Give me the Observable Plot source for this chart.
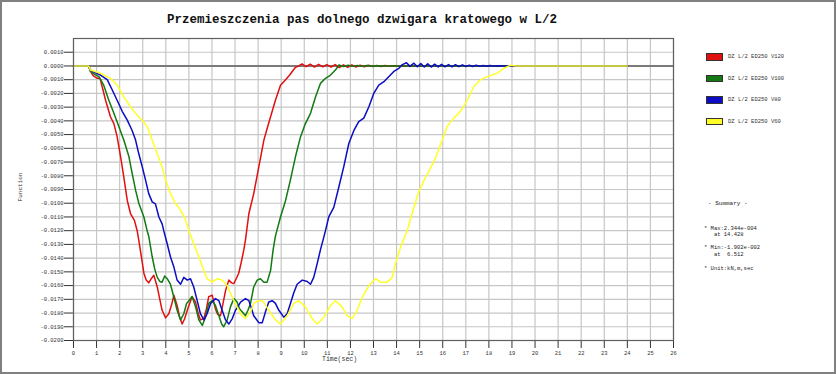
<!DOCTYPE html>
<html><head><meta charset="utf-8">
<script src="https://cdn.jsdelivr.net/npm/d3@7"></script>
<script src="https://cdn.jsdelivr.net/npm/@observablehq/plot@0.6"></script>
<style>
body{margin:0;background:#fff}
#wrap{position:relative;width:836px;height:374px;overflow:hidden;font-family:"Liberation Mono","DejaVu Sans Mono",monospace;color:#222}
.t{position:absolute;white-space:pre;line-height:1}
#border{position:absolute;left:0;top:0;width:836px;height:374px;box-sizing:border-box;border:2px solid #808080;pointer-events:none}
</style></head>
<body><div id="wrap"></div>
<script>
const title = "Przemieszczenia pas dolnego dzwigara kratowego w L/2";
const xLabel = "Time(sec)";
const yLabel = "Function";
const xTicks = [0,1,2,3,4,5,6,7,8,9,10,11,12,13,14,15,16,17,18,19,20,21,22,23,24,25,26];
const yTicks = [0.001,0,-0.001,-0.002,-0.003,-0.004,-0.005,-0.006,-0.007,-0.008,-0.009,-0.010,-0.011,-0.012,-0.013,-0.014,-0.015,-0.016,-0.017,-0.018,-0.019,-0.020];
const seriesNames = ["DZ L/2 ED250 V120","DZ L/2 ED250 V100","DZ L/2 ED250 V80","DZ L/2 ED250 V60"];
const seriesColors = ["#e01010","#127a12","#0c0cc4","#ffff26"];
const summaryLines = ["- Summary -","* Max:2.344e-004","   at 14.428","* Min:-1.902e-002","   at  6.512","* Unit:kN,m,sec"];

const v120 = [[0,0],[0.65,0],[0.74,-0.0004],[0.85,-0.0007],[1.03,-0.0009],[1.15,-0.0009],[1.24,-0.0015],[1.39,-0.0025],[1.6,-0.0037],[1.75,-0.0042],[1.89,-0.00515],[2.04,-0.0066],[2.18,-0.0081],[2.33,-0.0098],[2.47,-0.01075],[2.64,-0.01125],[2.76,-0.012],[2.83,-0.0127],[2.95,-0.014],[3.05,-0.0151],[3.15,-0.0156],[3.26,-0.0158],[3.37,-0.0155],[3.48,-0.01525],[3.63,-0.0161],[3.74,-0.017],[3.84,-0.0178],[3.99,-0.01835],[4.13,-0.01805],[4.25,-0.0174],[4.35,-0.0167],[4.49,-0.01745],[4.6,-0.0183],[4.71,-0.0188],[4.82,-0.0184],[4.93,-0.0178],[5.14,-0.0168],[5.29,-0.0172],[5.4,-0.018],[5.5,-0.0185],[5.65,-0.0184],[5.76,-0.0177],[5.86,-0.0168],[6.01,-0.0167],[6.15,-0.0177],[6.25,-0.0181],[6.37,-0.0182],[6.48,-0.0173],[6.59,-0.01635],[6.73,-0.0156],[6.85,-0.0158],[6.95,-0.01585],[7.05,-0.0155],[7.16,-0.0151],[7.27,-0.0143],[7.38,-0.0134],[7.45,-0.0127],[7.6,-0.01075],[7.81,-0.0093],[8.03,-0.00735],[8.25,-0.0054],[8.4,-0.0045],[8.54,-0.0037],[8.75,-0.0025],[8.97,-0.0014],[9.19,-0.001],[9.35,-0.0007],[9.48,-0.0004],[9.62,-0.0001],[9.76,0],[9.9,0.00015],[10.08,-0.00005],[10.26,0.00013],[10.44,-0.00008],[10.62,0.00012],[10.8,-0.00006],[10.98,0.0001],[11.16,-0.00008],[11.34,0.0001],[11.52,-0.00012],[11.7,0.00008],[11.88,-0.0001],[12.06,0.00008],[12.24,-0.00008],[12.42,0.00006],[12.6,-0.00006],[12.78,0.00005],[12.96,-0.00005],[13.14,0.00004],[13.32,-0.00004],[13.5,0.00003],[13.68,-0.00003],[13.86,0.00002],[14.04,-0.00002],[14.3,0],[24,0]];

const v100 = [[0,0],[0.65,0],[0.74,-0.0004],[0.9,-0.0006],[1.1,-0.00078],[1.31,-0.0014],[1.53,-0.0025],[1.75,-0.00345],[1.96,-0.0044],[2.18,-0.0054],[2.4,-0.0066],[2.54,-0.0078],[2.69,-0.00905],[2.83,-0.01],[3.05,-0.011],[3.19,-0.012],[3.26,-0.0124],[3.41,-0.0139],[3.52,-0.0148],[3.63,-0.0154],[3.74,-0.0157],[3.84,-0.01575],[3.95,-0.0153],[4.06,-0.0155],[4.2,-0.0159],[4.35,-0.01685],[4.49,-0.0178],[4.64,-0.0185],[4.78,-0.01805],[4.9,-0.0173],[5.0,-0.0171],[5.14,-0.0168],[5.29,-0.01755],[5.43,-0.0185],[5.58,-0.0189],[5.72,-0.0183],[5.86,-0.0173],[6.01,-0.0171],[6.15,-0.01745],[6.3,-0.0182],[6.42,-0.0188],[6.51,-0.019],[6.66,-0.0185],[6.8,-0.01755],[6.95,-0.01695],[7.09,-0.0172],[7.2,-0.0177],[7.31,-0.0179],[7.45,-0.0182],[7.56,-0.0178],[7.67,-0.0173],[7.81,-0.0161],[7.96,-0.0156],[8.1,-0.0155],[8.25,-0.01575],[8.39,-0.01575],[8.54,-0.0149],[8.65,-0.0134],[8.75,-0.0124],[8.97,-0.011],[9.19,-0.0098],[9.4,-0.0083],[9.62,-0.0066],[9.84,-0.00515],[10.05,-0.0042],[10.27,-0.00345],[10.49,-0.00225],[10.7,-0.00127],[10.92,-0.0009],[11.14,-0.00066],[11.35,-0.0003],[11.5,0.00007],[11.7,-0.00004],[11.9,0.00005],[12.1,-0.00003],[12.3,0.00004],[12.5,-0.00003],[12.7,0.00003],[12.9,-0.00002],[13.1,0.00002],[13.5,0],[24,0]];

const v80 = [[0,0],[0.65,0],[0.74,-0.0003],[0.95,-0.0005],[1.17,-0.00066],[1.46,-0.001],[1.68,-0.00175],[1.89,-0.0025],[2.11,-0.0033],[2.33,-0.00395],[2.54,-0.0047],[2.69,-0.0054],[2.83,-0.0064],[2.98,-0.00735],[3.12,-0.0083],[3.26,-0.0093],[3.41,-0.0099],[3.55,-0.01005],[3.7,-0.011],[3.84,-0.0115],[3.91,-0.012],[4.06,-0.01295],[4.2,-0.0139],[4.35,-0.01465],[4.49,-0.0156],[4.64,-0.0159],[4.78,-0.0154],[4.93,-0.0156],[5.07,-0.0155],[5.21,-0.0161],[5.36,-0.0171],[5.5,-0.01805],[5.65,-0.0185],[5.79,-0.01805],[5.94,-0.0173],[6.15,-0.01695],[6.3,-0.0171],[6.44,-0.0178],[6.59,-0.0185],[6.73,-0.0188],[6.88,-0.0184],[7.02,-0.0178],[7.24,-0.0172],[7.45,-0.01695],[7.6,-0.0171],[7.7,-0.0176],[7.81,-0.0182],[8.03,-0.0187],[8.18,-0.0187],[8.32,-0.0179],[8.46,-0.0172],[8.61,-0.0171],[8.75,-0.0173],[8.9,-0.0178],[9.11,-0.0183],[9.26,-0.01805],[9.4,-0.0173],[9.55,-0.0165],[9.69,-0.0159],[9.91,-0.0156],[10.13,-0.0157],[10.27,-0.0159],[10.41,-0.0154],[10.56,-0.0144],[10.7,-0.0134],[10.85,-0.01245],[10.92,-0.012],[11.06,-0.011],[11.28,-0.0103],[11.5,-0.0088],[11.71,-0.00735],[11.93,-0.00565],[12.15,-0.0047],[12.36,-0.00405],[12.58,-0.0038],[12.8,-0.00297],[13.01,-0.002],[13.23,-0.0014],[13.45,-0.00115],[13.66,-0.00078],[13.88,-0.0004],[14.1,-0.00017],[14.25,0.0001],[14.43,0.00023],[14.58,-0.00003],[14.75,0.0002],[14.9,-0.00006],[15.05,0.00017],[15.2,-0.00008],[15.35,0.00015],[15.5,-0.00008],[15.65,0.00013],[15.8,-0.00007],[15.95,0.00012],[16.1,-0.00006],[16.25,0.0001],[16.4,-0.00006],[16.55,0.00009],[16.7,-0.00005],[16.85,0.00008],[17.0,-0.00004],[17.15,0.00006],[17.3,-0.00004],[17.45,0.00005],[17.6,-0.00003],[17.75,0.00004],[17.9,-0.00002],[18.05,0.00003],[18.2,-0.00002],[18.4,0.00002],[18.6,0],[24,0]];

const v60 = [[0,0],[0.65,0],[0.74,-0.0003],[1.17,-0.00053],[1.6,-0.0009],[1.89,-0.0014],[2.18,-0.00225],[2.47,-0.00297],[2.76,-0.0036],[2.98,-0.00395],[3.19,-0.0044],[3.41,-0.0054],[3.63,-0.0064],[3.84,-0.00735],[3.99,-0.0083],[4.2,-0.0093],[4.42,-0.01],[4.64,-0.0105],[4.85,-0.0112],[5.0,-0.012],[5.21,-0.01295],[5.43,-0.0139],[5.65,-0.0149],[5.79,-0.0155],[6.01,-0.01575],[6.23,-0.0155],[6.44,-0.0156],[6.66,-0.016],[6.88,-0.01685],[7.09,-0.01755],[7.31,-0.0182],[7.45,-0.0184],[7.67,-0.0179],[7.81,-0.0173],[8.0,-0.0171],[8.18,-0.0171],[8.32,-0.0174],[8.46,-0.0178],[8.75,-0.0185],[8.97,-0.0188],[9.26,-0.0182],[9.55,-0.0173],[9.76,-0.0171],[10.05,-0.01755],[10.34,-0.0184],[10.56,-0.0188],[10.85,-0.0183],[11.14,-0.01745],[11.35,-0.0171],[11.64,-0.01755],[11.86,-0.0182],[12.08,-0.0184],[12.29,-0.0178],[12.51,-0.01685],[12.8,-0.016],[13.09,-0.0155],[13.3,-0.01575],[13.59,-0.01575],[13.81,-0.0154],[13.95,-0.0144],[14.17,-0.0132],[14.46,-0.012],[14.7,-0.0106],[14.95,-0.0092],[15.2,-0.0083],[15.45,-0.0075],[15.69,-0.0067],[15.98,-0.0054],[16.19,-0.0044],[16.48,-0.0038],[16.77,-0.0033],[17.06,-0.0025],[17.35,-0.0015],[17.64,-0.001],[17.93,-0.00078],[18.36,-0.00053],[18.65,-0.00017],[18.94,0.00005],[19.2,0],[24,0]];

const seriesData = [v120, v100, v80, v60];

const chart = Plot.plot({
  width: 836,
  height: 374,
  marginLeft: 73,
  marginRight: 163,
  marginTop: 38,
  marginBottom: 34,
  style: {fontFamily: '"Liberation Mono", monospace', fontSize: "5.5px", color: "#333", background: "transparent"},
  x: {domain: [0, 26], ticks: xTicks, tickSize: 8, tickPadding: 3, tickFormat: d => String(d), label: null},
  y: {domain: [-0.020, 0.002], ticks: yTicks, tickSize: 9, tickPadding: 1, tickFormat: d => d.toFixed(4), label: null},
  marks: [
    Plot.ruleX(xTicks, {x: d => d, stroke: "#c6c6c6", strokeWidth: 1.2}),
    Plot.ruleY(yTicks, {y: d => d, stroke: "#c6c6c6", strokeWidth: 1.2}),
    Plot.ruleY([0], {stroke: "#7a7a7a", strokeWidth: 2}),
    ...seriesData.map((s, i) => Plot.line(s, {x: d => d[0], y: d => d[1], stroke: seriesColors[i], strokeWidth: 1.5})),
    Plot.frame({stroke: "#606060", strokeWidth: 1.2})
  ]
});

const wrap = document.getElementById("wrap");
chart.style.position = "absolute";
chart.style.left = "0px";
chart.style.top = "0px";
wrap.appendChild(chart);

function addText(txt, left, top, size, extra) {
  const d = document.createElement("div");
  d.className = "t";
  d.textContent = txt;
  d.style.left = left + "px";
  d.style.top = top + "px";
  d.style.fontSize = size + "px";
  if (extra) Object.assign(d.style, extra);
  wrap.appendChild(d);
  return d;
}

addText(title, 0, 14, 12.5, {width: "724px", textAlign: "center", fontWeight: "bold", color: "#111"});
addText(xLabel, 322, 357, 6.5, {color: "#333"});
addText(yLabel, 21, 187, 6, {color: "#333", transform: "translate(-50%,-50%) rotate(-90deg)"});

seriesNames.forEach((name, i) => {
  const yc = 57 + i * 21.5;
  const sw = document.createElement("div");
  Object.assign(sw.style, {position: "absolute", left: "706px", top: (yc - 3.7) + "px", width: "17px", height: "7.5px", boxSizing: "border-box", border: "1px solid #333", background: seriesColors[i]});
  wrap.appendChild(sw);
  addText(name, 728, yc - 2.8, 5.5, {color: "#333"});
});

const sumY = [204, 229, 235, 248, 255, 269];
summaryLines.forEach((line, i) => {
  addText(line, i === 0 ? 708 : 704, sumY[i] - 2.8, i === 0 ? 6 : 5.5, {color: "#222"});
});

const b = document.createElement("div");
b.id = "border";
wrap.appendChild(b);
</script>
</body></html>
